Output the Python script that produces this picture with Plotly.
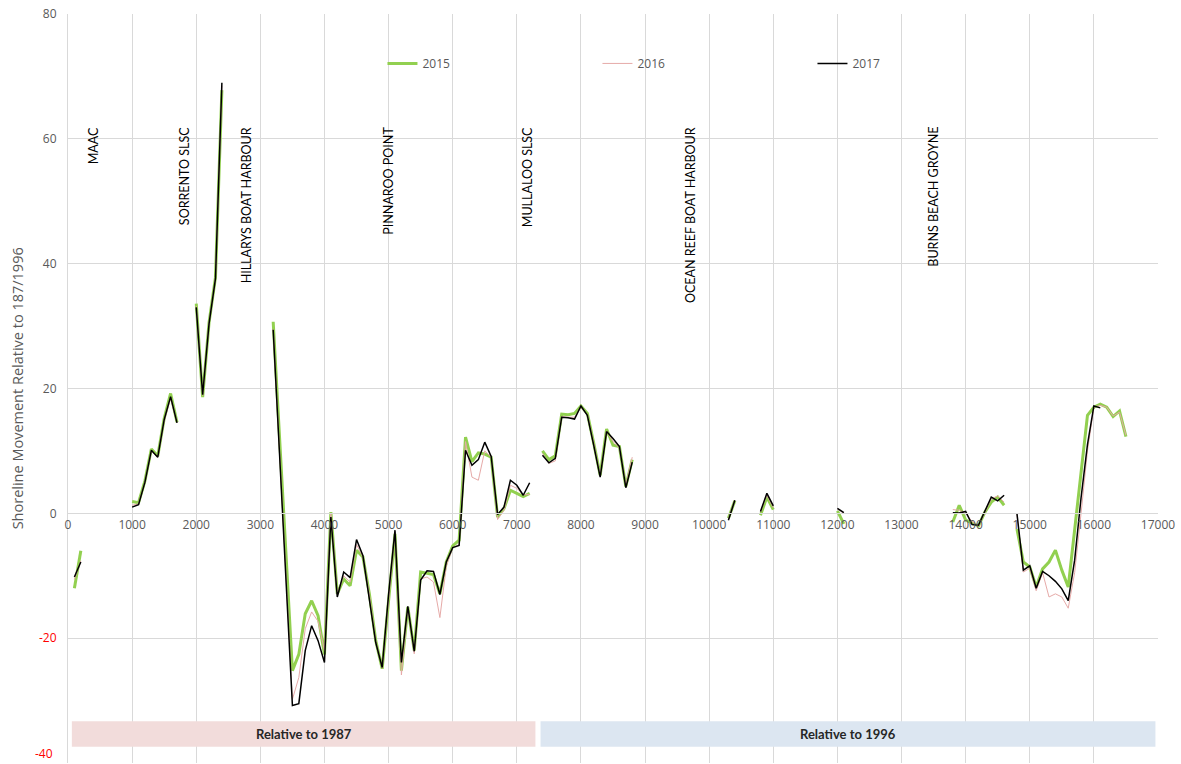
import plotly.graph_objects as go

# Chainage along the coast (m); None marks a break between surveyed stretches
chainage = [
    100, 200, None,
    1000, 1100, 1200, 1300, 1400, 1500, 1600, 1700, None,
    2000, 2100, 2200, 2300, 2400, None,
    3200, 3500, 3600, 3700, 3800, 3900, 4000, 4100, 4200, 4300, 4400, 4500,
    4600, 4700, 4800, 4900, 5000, 5100, 5200, 5300, 5400, 5500, 5600, 5700,
    5800, 5900, 6000, 6100, 6200, 6300, 6400, 6500, 6600, 6700, 6800, 6900,
    7000, 7100, 7200, None,
    7400, 7500, 7600, 7700, 7800, 7900, 8000, 8100, 8200, 8300, 8400, 8500,
    8600, 8700, 8800, None,
    10300, 10400, None,
    10800, 10900, 11000, None,
    12000, 12100, None,
    13800, 13900, 14000, 14100, 14200, 14300, 14400, 14500, 14600, None,
    14800, 14900, 15000, 15100, 15200, 15300, 15400, 15500, 15600, 15700,
    15800, 15900, 16000, 16100, 16200, 16300, 16400, 16500,
]

# Shoreline movement (m) for each survey year
movement_2015 = [
    -12.0, -6.0, None,
    1.9, 1.7, 5.2, 10.3, 9.2, 15.2, 19.2, 14.6, None,
    33.6, 18.6, 30.6, 37.8, 67.8, None,
    30.7, -25.2, -22.6, -16.1, -14.0, -16.4, -22.6, 0.2, -12.9, -10.5, -11.6, -5.9,
    -7.0, -12.9, -20.4, -24.9, -14.0, -3.3, -25.2, -15.0, -22.0, -9.4, -9.6, -9.8,
    -12.9, -7.8, -5.2, -4.3, 12.2, 8.3, 9.7, 9.5, 9.0, -0.6, 0.75, 3.7,
    3.2, 2.7, 3.2, None,
    10.0, 8.6, 9.2, 15.9, 15.8, 16.0, 17.2, 16.0, 11.2, 6.1, 13.5, 10.9,
    10.7, 4.3, 8.6, None,
    -0.8, 2.0, None,
    -0.3, 2.6, 0.6, None,
    0.4, -1.7, None,
    -1.4, 1.3, -1.1, -1.6, -2.0, 0.2, 1.8, 2.6, 1.3, None,
    -2.5, -7.8, -8.6, -11.8, -8.9, -7.8, -5.9, -9.1, -11.8, -2.5,
    7.0, 15.7, 17.0, 17.5, 17.0, 15.5, 16.4, 12.3,
]

movement_2016 = [
    -10.6, -7.6, None,
    1.3, 1.5, 5.0, 10.0, 9.0, 14.8, 18.4, 14.5, None,
    33.2, 18.9, 30.4, 37.6, 68.5, None,
    29.5, -29.8, -26.3, -18.5, -15.8, -17.3, -22.0, 0.0, -13.0, -10.0, -11.0, -5.0,
    -7.0, -13.0, -20.5, -24.8, -14.0, -3.0, -25.9, -15.0, -22.5, -10.5, -10.2, -11.0,
    -16.7, -8.5, -5.5, -5.0, 11.5, 5.8, 5.3, 10.0, 9.0, -1.0, 0.5, 4.5,
    4.0, 3.0, 3.0, None,
    9.6, 8.0, 8.4, 15.5, 15.4, 15.4, 17.0, 15.8, 11.2, 6.0, 13.2, 11.5,
    10.5, 4.5, 9.0, None,
    -0.9, 2.1, None,
    0.2, 2.9, 0.9, None,
    0.7, 0.0, None,
    0.6, 0.5, 0.0, -1.3, -2.0, 0.2, 2.3, 2.8, 1.8, None,
    -0.2, -9.4, -8.8, -12.4, -9.5, -13.4, -12.9, -13.4, -15.2, -9.5,
    0.0, 10.0, 17.0, 17.3, 17.0, 15.6, 16.2, 12.5,
]

movement_2017 = [
    -10.2, -7.8, None,
    1.0, 1.4, 5.0, 10.1, 9.0, 15.0, 18.7, 14.5, None,
    33.0, 19.0, 30.4, 37.6, 69.0, None,
    29.4, -30.8, -30.5, -22.0, -18.0, -20.4, -23.9, -0.6, -13.4, -9.4, -10.3, -4.2,
    -6.8, -13.5, -20.7, -24.7, -13.0, -2.7, -23.9, -14.9, -22.1, -10.7, -9.2, -9.3,
    -13.0, -7.8, -5.5, -5.15, 10.1, 7.7, 8.6, 11.4, 9.1, -0.2, 1.0, 5.3,
    4.5, 2.9, 4.9, None,
    9.3, 8.1, 8.8, 15.4, 15.3, 15.1, 17.2, 15.7, 10.9, 5.8, 13.1, 12.0,
    10.7, 4.1, 8.2, None,
    -1.1, 2.1, None,
    0.3, 3.2, 1.2, None,
    0.8, 0.1, None,
    0.1, 0.05, 0.3, -1.8, -1.9, 0.5, 2.6, 2.0, 2.9, None,
    0.0, -9.1, -8.4, -12.0, -9.3, -10.0, -10.9, -12.1, -14.0, -7.5,
    2.5, 11.0, 17.2, 16.9, None, None, None, None,
]

# Coastal landmarks and their chainage (m)
landmark_names = ["MAAC", "SORRENTO SLSC", "HILLARYS BOAT HARBOUR", "PINNAROO POINT",
                  "MULLALOO SLSC", "OCEAN REEF BOAT HARBOUR", "BURNS BEACH GROYNE"]
landmark_chainage = [400, 1810, 2780, 5000, 7160, 9700, 13500]

# Baseline reference periods
baseline_labels = ["Relative to 1987", "Relative to 1996"]
baseline_spans = [(60, 7290), (7370, 16960)]

x_ticks = list(range(0, 17001, 1000))
y_ticks = [-40, -20, 0, 20, 40, 60, 80]

GRID = "#d9d9d9"
TXT = "#595959"
RED = "#ff0000"
TICK_FONT = dict(family="Open Sans, Segoe UI, sans-serif", size=12, color=TXT)

fig = go.Figure()
series = [
    ("2015", movement_2015, "#92d050", 3),
    ("2016", movement_2016, "#e6aaa8", 1),
    ("2017", movement_2017, "#000000", 1.5),
]
for name, vals, col, w in series:
    fig.add_trace(go.Scatter(
        x=chainage, y=vals, name=name, mode="lines",
        line=dict(color=col, width=w), connectgaps=False,
    ))

# y tick labels: negatives shown in red; the bottom one sits on the page edge
# and is drawn separately, resting on the bottom gridline so it stays visible
y_text = []
for v in y_ticks:
    if v == y_ticks[0]:
        y_text.append("")
    elif v < 0:
        y_text.append(f'<span style="color:{RED}">{v}</span>')
    else:
        y_text.append(str(v))

shapes = []
annotations = []
band_fills = ["#f2dcdb", "#dce6f1"]
for (x0, x1), lab, fill in zip(baseline_spans, baseline_labels, band_fills):
    shapes.append(dict(type="rect", xref="x", yref="y", x0=x0, x1=x1,
                       y0=-37.4, y1=-33.3, fillcolor=fill, line=dict(width=0),
                       layer="above"))
    annotations.append(dict(x=(x0 + x1) / 2, y=-35.35, xref="x", yref="y",
                            text=f"<b>{lab}</b>", showarrow=False,
                            font=dict(family="Lato, Carlito, sans-serif", size=13,
                                      color="#262626")))

for name, xc in zip(landmark_names, landmark_chainage):
    annotations.append(dict(x=xc, y=62.2, xref="x", yref="y", text=name,
                            textangle=-90, showarrow=False, xanchor="center",
                            yanchor="top",
                            font=dict(family="Lato, Carlito, sans-serif", size=12.5,
                                      color="#000000")))

annotations.append(dict(x=-0.0125, y=y_ticks[0], xref="paper", yref="y",
                        text=str(y_ticks[0]), showarrow=False, xanchor="right",
                        yanchor="bottom", yshift=0, borderpad=0,
                        font=dict(TICK_FONT, color=RED)))

annotations.append(dict(x=-0.046, y=0.5, xref="paper", yref="paper",
                        text="Shoreline Movement Relative to 187/1996",
                        textangle=-90, showarrow=False, xanchor="center",
                        yanchor="middle",
                        font=dict(family="Open Sans, sans-serif", size=14.5, color=TXT)))

fig.update_layout(
    width=1181, height=764,
    margin=dict(l=68, r=23, t=14, b=1),
    paper_bgcolor="white", plot_bgcolor="white",
    showlegend=True,
    legend=dict(orientation="h", x=0.2885, y=0.934, xanchor="left", yanchor="middle",
                entrywidth=170, entrywidthmode="pixels",
                font=dict(family="Open Sans, sans-serif", size=12, color=TXT),
                bgcolor="rgba(0,0,0,0)", borderwidth=0),
    xaxis=dict(range=[0, 17000], tickvals=x_ticks, ticktext=[str(v) for v in x_ticks],
               showgrid=True, gridcolor=GRID, gridwidth=1, zeroline=False,
               anchor="free", position=1 / 3, showline=True, linecolor=GRID,
               ticks="", tickfont=TICK_FONT),
    yaxis=dict(range=[-40, 80], tickvals=y_ticks, ticktext=y_text,
               showgrid=True, gridcolor=GRID, gridwidth=1, zeroline=True,
               zerolinecolor=GRID, zerolinewidth=1, showline=True, linecolor=GRID,
               ticks="", tickfont=TICK_FONT, ticklabelstandoff=8),
    shapes=shapes,
    annotations=annotations,
)

fig.write_html("out.html")
